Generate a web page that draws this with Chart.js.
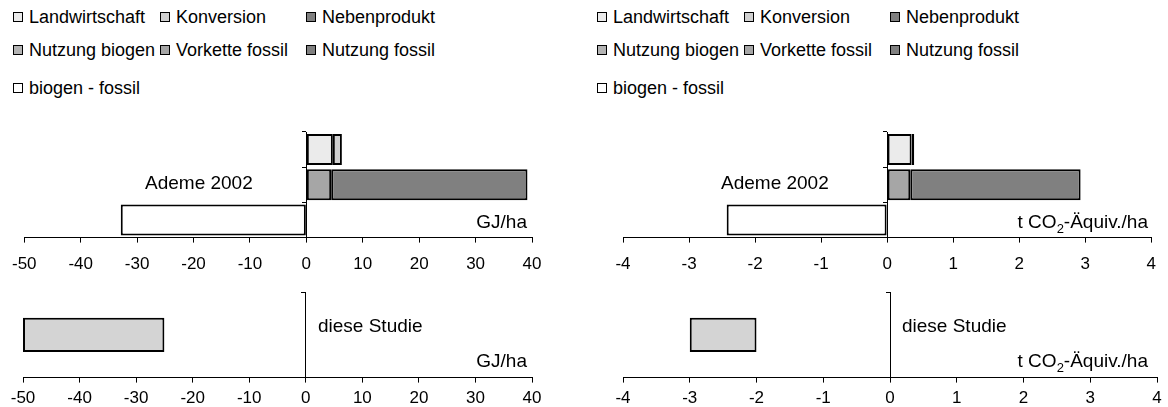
<!DOCTYPE html>
<html>
<head>
<meta charset="utf-8">
<script src="https://cdn.jsdelivr.net/npm/chart.js@4.4.1/dist/chart.umd.min.js"></script>
<style>
html, body { margin: 0; padding: 0; overflow: hidden; background: #fff; }
body { width: 1168px; height: 407px; position: relative; font-family: "Liberation Sans", Arial, sans-serif; color: #000; }
canvas { position: absolute; }
.lg { position: absolute; font-size: 18px; white-space: nowrap; line-height: 20px; }
.sw { display: inline-block; width: 8px; height: 8px; border: 1px solid #000; margin-right: 6px; vertical-align: 1px; }
.note { position: absolute; font-size: 19px; white-space: nowrap; line-height: 20px; }
</style>
</head>
<body>
<canvas id="topGJ" width="584" height="170" style="left:0;top:120px"></canvas>
<canvas id="topCO2" width="584" height="170" style="left:584px;top:120px"></canvas>
<canvas id="botGJ" width="584" height="136" style="left:0;top:280px"></canvas>
<canvas id="botCO2" width="584" height="136" style="left:584px;top:280px"></canvas>

<div class="note" style="left:145px;top:173px">Ademe 2002</div>
<div class="note" style="right:641px;top:212px">GJ/ha</div>
<div class="note" style="left:721px;top:173px">Ademe 2002</div>
<div class="note" style="right:20px;top:212px">t CO<sub style="font-size:13px;line-height:0">2</sub>-Äquiv./ha</div>
<div class="note" style="left:318px;top:316px">diese Studie</div>
<div class="note" style="right:641px;top:351px">GJ/ha</div>
<div class="note" style="left:902px;top:316px">diese Studie</div>
<div class="note" style="right:20px;top:351px">t CO<sub style="font-size:13px;line-height:0">2</sub>-Äquiv./ha</div>

<script>
// Zeilen der Ademe-Grafik (oben -> unten)
const rows = ['biogen', 'fossil', 'biogen - fossil'];
const seriesNames = ['Landwirtschaft', 'Konversion', 'Nebenprodukt', 'Nutzung biogen', 'Vorkette fossil', 'Nutzung fossil', 'biogen - fossil'];
const seriesColors = ['#ebebeb', '#d0d0d0', '#808080', '#b4b4b4', '#a6a6a6', '#808080', '#ffffff'];

// Ademe 2002, GJ/ha
const landwirtschaftGJ = [4.7, null, null];
const konversionGJ = [1.6, null, null];
const nebenproduktGJ = [null, null, null];
const nutzungBiogenGJ = [null, null, null];
const vorketteFossilGJ = [null, 4.4, null];
const nutzungFossilGJ = [null, 34.8, null];
const differenzGJ = [null, null, -32.9];

// Ademe 2002, t CO2-Äquiv./ha
const landwirtschaftCO2 = [0.37, null, null];
const konversionCO2 = [0.04, null, null];
const nebenproduktCO2 = [null, null, null];
const nutzungBiogenCO2 = [null, null, null];
const vorketteFossilCO2 = [null, 0.35, null];
const nutzungFossilCO2 = [null, 2.58, null];
const differenzCO2 = [null, null, -2.43];

// diese Studie (Spanne von - bis)
const studieLabel = ['diese Studie'];
const studieGJ = [-50, -25];
const studieCO2 = [-3, -2];
const studieColor = '#d4d4d4';

// Achsen: min, max, Schritt
const axisGJ = [-50, 40, 10];
const axisCO2 = [-4, 4, 1];

Chart.defaults.font.family = '"Liberation Sans", Arial, sans-serif';
Chart.defaults.color = '#000';

// Legende oben links und rechts
const legendCols = [13, 160, 306];
const legendRows = [7, 40, 78];
[0, 584].forEach(function(off) {
    for (let i = 0; i < seriesNames.length; i++) {
        const d = document.createElement('div');
        d.className = 'lg';
        d.style.left = (off + legendCols[i % 3]) + 'px';
        d.style.top = legendRows[Math.floor(i / 3)] + 'px';
        d.innerHTML = '<span class="sw" style="background:' + seriesColors[i] + '"></span>' + seriesNames[i];
        document.body.appendChild(d);
    }
});

function xScale(axis, stacked, pad) {
    return {
        stacked: stacked,
        min: axis[0],
        max: axis[1],
        ticks: { stepSize: axis[2], font: { size: 17 }, padding: pad, color: '#000' },
        grid: { drawOnChartArea: false, tickLength: 5, color: '#000' },
        border: { color: '#000', width: 1 }
    };
}
function yScale(stacked) {
    return {
        stacked: stacked,
        position: { x: 0 },
        ticks: { display: false },
        grid: { drawOnChartArea: false, offset: true, tickLength: 4, color: '#000' },
        border: { color: '#000', width: 1 }
    };
}

function topChart(id, seriesData, axis, padding) {
    const datasets = [];
    for (let i = 0; i < seriesNames.length; i++) {
        datasets.push({
            label: seriesNames[i],
            data: seriesData[i],
            backgroundColor: seriesColors[i],
            borderColor: '#000',
            borderWidth: 2,
            borderSkipped: false,
            barPercentage: 0.88,
            categoryPercentage: 1
        });
    }
    new Chart(document.getElementById(id), {
        type: 'bar',
        data: { labels: rows, datasets: datasets },
        options: {
            indexAxis: 'y',
            responsive: false,
            animation: false,
            devicePixelRatio: 1,
            layout: { padding: padding },
            plugins: { legend: { display: false }, tooltip: { enabled: false } },
            scales: { x: xScale(axis, true, 12), y: yScale(true) }
        }
    });
}

function bottomChart(id, range, axis, padding) {
    new Chart(document.getElementById(id), {
        type: 'bar',
        data: {
            labels: studieLabel,
            datasets: [{
                label: 'diese Studie',
                data: [range],
                backgroundColor: studieColor,
                borderColor: '#000',
                borderWidth: 2,
                borderSkipped: false,
                barPercentage: 0.4,
                categoryPercentage: 1
            }]
        },
        options: {
            indexAxis: 'y',
            responsive: false,
            animation: false,
            devicePixelRatio: 1,
            layout: { padding: padding },
            plugins: { legend: { display: false }, tooltip: { enabled: false } },
            scales: { x: xScale(axis, false, 6), y: yScale(false) }
        }
    });
}

topChart('topGJ', [landwirtschaftGJ, konversionGJ, nebenproduktGJ, nutzungBiogenGJ, vorketteFossilGJ, nutzungFossilGJ, differenzGJ],
    axisGJ, { left: 23, right: 52, top: 12, bottom: 3 });
topChart('topCO2', [landwirtschaftCO2, konversionCO2, nebenproduktCO2, nutzungBiogenCO2, vorketteFossilCO2, nutzungFossilCO2, differenzCO2],
    axisCO2, { left: 39, right: 11, top: 12, bottom: 3 });
bottomChart('botGJ', studieGJ, axisGJ, { left: 23, right: 52, top: 12, bottom: 1 });
bottomChart('botCO2', studieCO2, axisCO2, { left: 39, right: 11, top: 12, bottom: 1 });
</script>
</body>
</html>
